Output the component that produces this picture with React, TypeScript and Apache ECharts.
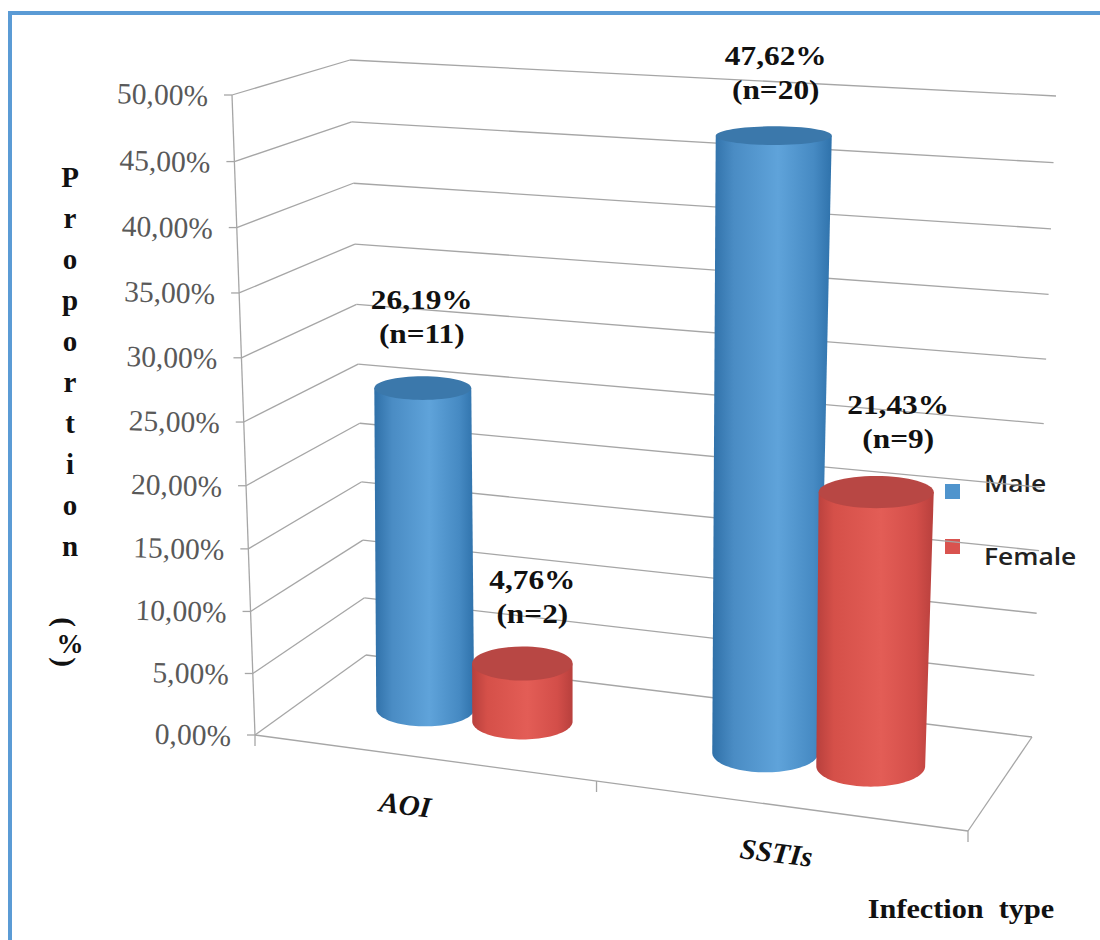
import React, { useEffect, useRef } from "react";
import * as echarts from "echarts";

// Chart data
const categories = ["AOI", "SSTIs"];
const maleValues = [26.19, 47.62];
const femaleValues = [4.76, 21.43];
const maleCounts = [11, 20];
const femaleCounts = [2, 9];
const yTicks = [0, 5, 10, 15, 20, 25, 30, 35, 40, 45, 50];
const yTitleLetters = ["P", "r", "o", "p", "o", "r", "t", "i", "o", "n"];

const Y_MAX = 50;
const SERIF = "'Liberation Serif', serif";
const GRID_COLOR = "#a6a6a6";

type Pt = [number, number];

// Maps the unit square (u along the categories, w into the depth) on to a quadrilateral.
function quadMap(fl: Pt, fr: Pt, br: Pt, bl: Pt) {
  const dx1 = fr[0] - br[0], dx2 = bl[0] - br[0], sx = fl[0] - fr[0] + br[0] - bl[0];
  const dy1 = fr[1] - br[1], dy2 = bl[1] - br[1], sy = fl[1] - fr[1] + br[1] - bl[1];
  const det = dx1 * dy2 - dx2 * dy1;
  const g = (sx * dy2 - dx2 * sy) / det;
  const h = (dx1 * sy - sx * dy1) / det;
  const a = fr[0] - fl[0] + g * fr[0], b = bl[0] - fl[0] + h * bl[0];
  const d = fr[1] - fl[1] + g * fr[1], e = bl[1] - fl[1] + h * bl[1];
  return (u: number, w: number): Pt => {
    const q = g * u + h * w + 1;
    return [(a * u + b * w + fl[0]) / q, (d * u + e * w + fl[1]) / q];
  };
}

// The plot box: floor and ceiling planes of the perspective view
const floorPlane = quadMap([255, 735], [968, 831], [1032, 737], [366, 655]);
const ceilingPlane = quadMap([232, 95], [988, 143], [1056, 96], [350, 60]);

// Height along a vertical edge, foreshortened towards the floor
const heightRatio = 1.045;
const liftOf = (v: number) => v / (v + (1 - v) * heightRatio);

function project(u: number, w: number, v: number): Pt {
  const f = floorPlane(u, w);
  const c = ceilingPlane(u, w);
  const t = liftOf(v);
  return [f[0] + (c[0] - f[0]) * t, f[1] + (c[1] - f[1]) * t];
}

// Axis-scale helpers: pixels from the hidden grid become plot-box fractions
const uOf = (api: any, params: any, cat: number) =>
  (api.coord([cat, 0])[0] - params.coordSys.x) / params.coordSys.width;
const vOf = (api: any, params: any, value: number) =>
  1 - (api.coord([0, value])[1] - params.coordSys.y) / params.coordSys.height;

const percent = (n: number) => n.toFixed(2).replace(".", ",") + "%";

function textEl(
  text: string,
  x: number,
  y: number,
  style: Record<string, unknown>,
  rotation = 0,
  scaleX = 1
) {
  return {
    type: "text",
    x,
    y,
    rotation,
    scaleX,
    silent: true,
    style: {
      text,
      x: 0,
      y: 0,
      fontFamily: SERIF,
      textAlign: "center",
      textVerticalAlign: "middle",
      ...style,
    },
  };
}

function lineEl(a: Pt, b: Pt) {
  return {
    type: "line",
    silent: true,
    shape: { x1: a[0], y1: a[1], x2: b[0], y2: b[1] },
    style: { stroke: GRID_COLOR, lineWidth: 1.3, fill: "none" },
  };
}

// One gridline across both walls, its tick and label; the zero line also draws the floor and axis
function renderWall(params: any, api: any) {
  const value = api.value(1);
  const v = vOf(api, params, value);
  const front = project(0, 0, v);
  const back = project(0, 1, v);
  const right = project(1, 1, v);
  const children: any[] = [
    lineEl(front, back),
    lineEl(back, right),
    lineEl([front[0] - 8, front[1]], front),
    textEl(percent(value), front[0] - 24, front[1] + 1, {
      fontSize: 29.5,
      fill: "#595959",
      textAlign: "right",
    }, -0.03),
  ];
  if (value === 0) {
    const top = project(0, 0, 1);
    const corner = project(1, 0, 0);
    children.push(lineEl(front, top), lineEl(front, corner), lineEl(corner, right));
    for (const u of [0, 0.5, 1]) {
      const p = project(u, 0, 0);
      children.push(lineEl(p, [p[0], p[1] + 11]));
    }
  }
  return { type: "group", children };
}

function renderCategoryLabel(params: any, api: any) {
  const cat = api.value(0);
  const u = uOf(api, params, cat);
  const p = project(u, 0, 0);
  const shift = -17 + 30 * (u - 0.25);
  return textEl(categories[cat], p[0] + shift, p[1] + 47, {
    fontSize: 29,
    fontWeight: "bold",
    fontStyle: "italic",
    fill: "#111",
  }, -0.12);
}

const BAR_OFFSET = 0.0735;
const BAR_RADIUS = 0.075;
const BAR_DEPTH = 0.49;

// Cylinder shapes are shaded across their width, with a darker lid
function makeCylinderRenderer(
  side: number,
  bodyStops: { offset: number; color: string }[],
  lid: string,
  counts: number[],
  labelShift: Pt[]
) {
  return (params: any, api: any) => {
    const cat = api.value(0);
    const value = api.value(1);
    const u = uOf(api, params, cat) + side * BAR_OFFSET;
    const v = vOf(api, params, value);

    const base = project(u, BAR_DEPTH, 0);
    const rawTop = project(u, BAR_DEPTH, v);
    // Cylinders lean less than the walls do
    const top: Pt = [base[0] + 27 * (u - 0.35) * v, rawTop[1]];

    const halfWidth = (level: number) =>
      (project(u + BAR_RADIUS, BAR_DEPTH, level)[0] - project(u - BAR_RADIUS, BAR_DEPTH, level)[0]) / 2;
    const rimDepth = (a: number, y: number) => a * (0.16 + 0.00034 * (y - 136));

    const topA = halfWidth(v);
    const baseA = halfWidth(0);
    const topB = rimDepth(topA, top[1]);
    const baseB = rimDepth(baseA, base[1]);

    const outline: Pt[] = [[top[0] - topA, top[1]]];
    const steps = 48;
    for (let i = 0; i <= steps; i++) {
      const t = Math.PI - (Math.PI * i) / steps;
      outline.push([base[0] + baseA * Math.cos(t), base[1] + baseB * Math.sin(t)]);
    }
    outline.push([top[0] + topA, top[1]]);

    const lines = [percent(value), `(n=${counts[cat]})`];
    const shift = labelShift[cat];
    const labelX = top[0] + shift[0];

    return {
      type: "group",
      children: [
        {
          type: "polygon",
          silent: true,
          shape: { points: outline },
          style: {
            fill: { type: "linear", x: 0, y: 0, x2: 1, y2: 0, colorStops: bodyStops },
          },
        },
        {
          type: "ellipse",
          silent: true,
          shape: { cx: top[0], cy: top[1], rx: topA, ry: topB },
          style: { fill: lid },
        },
        textEl(lines[0], labelX, top[1] + shift[1], { fontSize: 28, fontWeight: "bold", fill: "#111" }, 0, 1.12),
        textEl(lines[1], labelX, top[1] + shift[1] + 34, { fontSize: 28, fontWeight: "bold", fill: "#111" }, 0, 1.12),
      ],
    };
  };
}

const maleStops = [
  { offset: 0, color: "#2f70a8" },
  { offset: 0.18, color: "#4a8cc4" },
  { offset: 0.55, color: "#5fa3da" },
  { offset: 0.85, color: "#468ac3" },
  { offset: 1, color: "#2f72ab" },
];
const femaleStops = [
  { offset: 0, color: "#b8403d" },
  { offset: 0.15, color: "#d55049" },
  { offset: 0.55, color: "#e35d56" },
  { offset: 0.85, color: "#d34e49" },
  { offset: 1, color: "#b8403d" },
];

const maleLabelShift: Pt[] = [[-1, -89], [2, -80]];
const femaleLabelShift: Pt[] = [[10, -84], [22, -88]];

function buildOption() {
  const silentFrame = (x: number, y: number, width: number, height: number) => ({
    type: "rect",
    silent: true,
    shape: { x, y, width, height },
    style: { fill: "#5b9bd5" },
  });
  const legendSwatch = (y: number, fill: string) => ({
    type: "rect",
    silent: true,
    shape: { x: 945, y, width: 15, height: 15 },
    style: { fill },
  });
  const legendText = (text: string, y: number) => ({
    type: "text",
    silent: true,
    x: 984,
    y,
    scaleX: 1.1,
    style: {
      text,
      x: 0,
      y: 0,
      fontFamily: "'Open Sans', sans-serif",
      fontWeight: 600,
      fontSize: 24,
      fill: "#222",
      textAlign: "left",
      textVerticalAlign: "middle",
    },
  });
  const titleStyle = {
    fontFamily: SERIF,
    fontWeight: "bold",
    fontSize: 29,
    fill: "#111",
    x: 0,
    y: 0,
    textAlign: "center",
    textVerticalAlign: "middle",
  };

  return {
    animation: false,
    backgroundColor: "#ffffff",
    grid: { left: 0, right: 0, top: 0, bottom: 0 },
    xAxis: { type: "category", data: categories, show: false },
    yAxis: { type: "value", min: 0, max: Y_MAX, interval: 5, show: false },
    graphic: {
      elements: [
        silentFrame(8, 11, 1092, 4),
        silentFrame(8, 11, 4, 929),
        legendSwatch(484, "#4f94cd"),
        legendSwatch(539, "#d9534f"),
        legendText("Male", 482),
        legendText("Female", 555),
        {
          type: "text",
          silent: true,
          x: 70,
          y: 156,
          style: { ...titleStyle, text: yTitleLetters.join("\n"), lineHeight: 41.1, textVerticalAlign: "top" },
        },
        { type: "text", silent: true, x: 65, y: 622, rotation: -Math.PI / 2, style: { ...titleStyle, text: "(" } },
        { type: "text", silent: true, x: 70, y: 644, style: { ...titleStyle, fontSize: 27, text: "%" } },
        { type: "text", silent: true, x: 65, y: 662, rotation: -Math.PI / 2, style: { ...titleStyle, text: ")" } },
        {
          type: "text",
          silent: true,
          x: 961,
          y: 908,
          scaleX: 1.08,
          style: { ...titleStyle, fontSize: 28, text: "Infection  type" },
        },
      ],
    },
    series: [
      {
        type: "custom",
        name: "Walls",
        coordinateSystem: "cartesian2d",
        silent: true,
        clip: false,
        data: yTicks.map((t) => [0, t]),
        encode: { x: 0, y: 1 },
        renderItem: renderWall,
        z: 1,
      },
      {
        type: "custom",
        name: "Categories",
        coordinateSystem: "cartesian2d",
        silent: true,
        clip: false,
        data: categories.map((_, i) => [i, 0]),
        encode: { x: 0, y: 1 },
        renderItem: renderCategoryLabel,
        z: 1,
      },
      {
        type: "custom",
        name: "Male",
        coordinateSystem: "cartesian2d",
        silent: true,
        clip: false,
        data: maleValues.map((v, i) => [i, v]),
        encode: { x: 0, y: 1 },
        renderItem: makeCylinderRenderer(-1, maleStops, "#3b78ab", maleCounts, maleLabelShift),
        z: 2,
      },
      {
        type: "custom",
        name: "Female",
        coordinateSystem: "cartesian2d",
        silent: true,
        clip: false,
        data: femaleValues.map((v, i) => [i, v]),
        encode: { x: 0, y: 1 },
        renderItem: makeCylinderRenderer(1, femaleStops, "#b84744", femaleCounts, femaleLabelShift),
        z: 3,
      },
    ],
  };
}

export default function App() {
  const ref = useRef<HTMLDivElement>(null);
  useEffect(() => {
    const chart = echarts.init(ref.current!, undefined, { renderer: "svg" });
    chart.setOption(buildOption() as any);
    return () => chart.dispose();
  }, []);
  return <div ref={ref} style={{ position: "fixed", left: 0, top: 0, width: 1100, height: 940 }} />;
}
